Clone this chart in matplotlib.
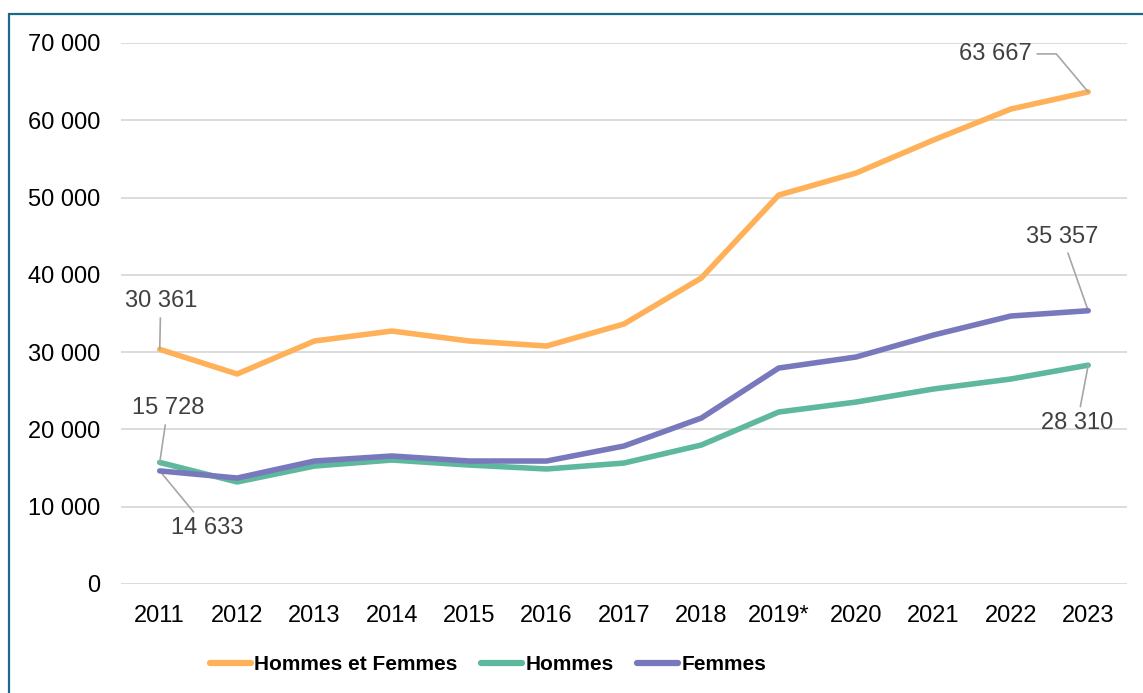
import matplotlib
matplotlib.use("Agg")
import matplotlib.pyplot as plt
from matplotlib.patches import Rectangle
from matplotlib.ticker import FuncFormatter

plt.rcParams['font.family'] = ['Liberation Sans', 'DejaVu Sans']

# données
annees = ["2011", "2012", "2013", "2014", "2015", "2016", "2017",
          "2018", "2019*", "2020", "2021", "2022", "2023"]
total = [30361, 27170, 31440, 32730, 31440, 30790, 33640,
         39590, 50320, 53170, 57440, 61450, 63667]
hommes = [15728, 13200, 15260, 16040, 15390, 14880, 15650,
          17980, 22250, 23540, 25230, 26520, 28310]
femmes = [14633, 13710, 15910, 16560, 15910, 15910, 17850,
          21470, 27940, 29370, 32210, 34670, 35357]

c_total = "#FFB15A"
c_hommes = "#5DB89D"
c_femmes = "#7879BD"

fig = plt.figure(figsize=(11.43, 6.93), dpi=100)
ax = fig.add_axes([0.1059, 0.1573, 0.880, 0.7807])

# cadre autour du graphique
fig.patches.append(Rectangle((9 / 1143, -0.1), 1.2, 1 - 14 / 693 + 0.1,
                             transform=fig.transFigure, fill=False,
                             edgecolor="#1B6B86", linewidth=1.6))

x = list(range(len(annees)))
ax.plot(x, total, color=c_total, lw=4, solid_capstyle="round", label="Hommes et Femmes", zorder=3)
ax.plot(x, hommes, color=c_hommes, lw=4, solid_capstyle="round", label="Hommes", zorder=3)
ax.plot(x, femmes, color=c_femmes, lw=4, solid_capstyle="round", label="Femmes", zorder=4)

ax.set_xlim(-0.5, len(annees) - 0.5)
ax.set_ylim(0, 70000)
ax.set_yticks(range(0, 70001, 10000))
ax.yaxis.set_major_formatter(FuncFormatter(lambda v, p: f"{int(v):,}".replace(",", " ")))
ax.set_xticks(x)
ax.set_xticklabels(annees)
ax.grid(axis="y", color="#D9D9D9", lw=1.3)
ax.set_axisbelow(True)
for s in ax.spines.values():
    s.set_visible(False)
ax.tick_params(length=0, labelsize=17, colors="black")
ax.tick_params(axis="y", pad=15)
ax.tick_params(axis="x", pad=15)

# étiquettes de valeurs
def etiquette(i, v, dx, dy, conn="arc3"):
    ax.annotate(f"{v:,}".replace(",", " "), xy=(i, v), xytext=(dx, dy),
                textcoords="offset pixels", ha="center", va="center",
                fontsize=17, color="#404040",
                arrowprops=dict(arrowstyle="-", color="#A6A6A6", lw=1.2,
                                shrinkA=2, shrinkB=0, connectionstyle=conn))

etiquette(0, total[0], 1, 48)
etiquette(0, hommes[0], 8, 54)
etiquette(0, femmes[0], 47, -57)
etiquette(12, total[-1], -93, 38, "angle,angleA=0,angleB=130,rad=0")
etiquette(12, femmes[-1], -26, 74)
etiquette(12, hommes[-1], -11, -58)

leg = fig.legend(loc="center", bbox_to_anchor=(0.427, 0.041), ncol=3, frameon=False,
                 prop={"weight": "bold", "size": 15},
                 handlelength=2.0, handletextpad=0.15, columnspacing=1.1)
for ln in leg.get_lines():
    ln.set_linewidth(4.5)

fig.savefig("out.png", dpi=100)
